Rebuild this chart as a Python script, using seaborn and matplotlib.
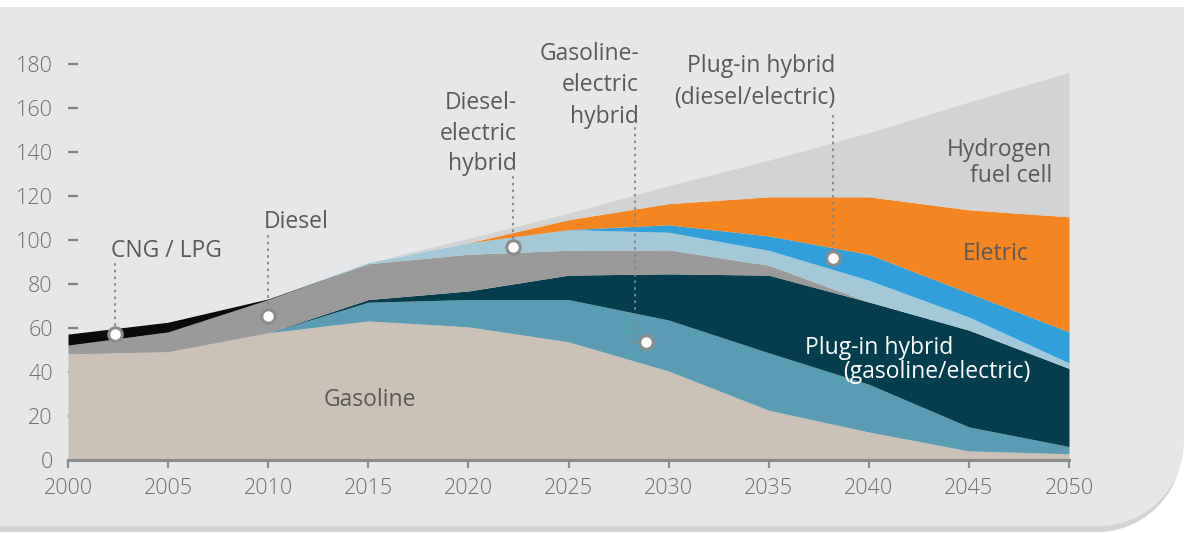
import numpy as np
import pandas as pd
import matplotlib
matplotlib.use("Agg")
import matplotlib.pyplot as plt
from matplotlib.path import Path
from matplotlib.patches import PathPatch
import seaborn as sns

# ---- data: vehicle stock by powertrain (stacked) ----
years = [2000, 2005, 2010, 2015, 2020, 2025, 2030, 2035, 2040, 2045, 2050]

gasoline        = [48.0, 49.0, 57.6, 63.0, 60.3, 53.5, 40.2, 22.4, 12.5, 3.9, 2.6]
gasoline_hybrid = [0.0, 0.0, 0.0, 8.5, 12.4, 19.2, 23.2, 26.1, 21.7, 10.9, 3.3]
plugin_gasoline = [0.0, 0.0, 0.0, 1.2, 3.9, 11.1, 21.0, 35.3, 37.4, 44.0, 35.5]
diesel          = [4.0, 9.0, 15.1, 16.3, 16.7, 11.3, 10.9, 4.5, 0.0, 0.0, 0.0]
cng_lpg         = [5.0, 4.4, 0.3, 0.0, 0.0, 0.0, 0.0, 0.0, 0.0, 0.0, 0.0]
diesel_hybrid   = [0.0, 0.0, 0.0, 0.5, 5.2, 9.4, 8.0, 6.8, 9.9, 6.0, 2.5]
plugin_diesel   = [0.0, 0.0, 0.0, 0.0, 0.0, 0.0, 3.4, 6.5, 11.8, 10.9, 14.1]
electric        = [0.0, 0.0, 0.0, 0.0, 0.0, 4.5, 9.6, 17.8, 26.1, 37.8, 52.3]
hydrogen        = [0.0, 0.0, 0.0, 0.0, 2.0, 3.0, 8.2, 16.6, 29.1, 49.0, 65.7]

series_names = ["Gasoline", "Gasoline-electric hybrid", "Plug-in hybrid (gasoline/electric)",
                "Diesel", "CNG / LPG", "Diesel-electric hybrid",
                "Plug-in hybrid (diesel/electric)", "Eletric", "Hydrogen fuel cell"]
series_colors = ["#CCC1B6", "#5A9CB4", "#033D4E", "#9A9A9A", "#0A0A0A",
                 "#A3C9D8", "#319FD9", "#F48520", "#D1D3D4"]

x_ticks = [2000, 2005, 2010, 2015, 2020, 2025, 2030, 2035, 2040, 2045, 2050]
y_ticks = [0, 20, 40, 60, 80, 100, 120, 140, 160, 180]

df = pd.DataFrame({"year": years, "Gasoline": gasoline,
                   "Gasoline-electric hybrid": gasoline_hybrid,
                   "Plug-in hybrid (gasoline/electric)": plugin_gasoline,
                   "Diesel": diesel, "CNG / LPG": cng_lpg,
                   "Diesel-electric hybrid": diesel_hybrid,
                   "Plug-in hybrid (diesel/electric)": plugin_diesel,
                   "Eletric": electric, "Hydrogen fuel cell": hydrogen})

# ---- style ----
sns.set_style("white")
plt.rcParams["font.family"] = ["Open Sans", "DejaVu Sans"]

TEXT = "#58595B"
TICK_TEXT = "#6D6E71"
AXIS = "#8A8B8D"
PANEL = "#E6E7E8"
SHADOW = "#D2D3D5"

W, H = 1184, 533
fig = plt.figure(figsize=(W / 100, H / 100), dpi=100)
fig.patch.set_facecolor("white")

# ---- background panel with rounded lower-right corner ----
bg = fig.add_axes([0, 0, 1, 1], zorder=0)
bg.set_xlim(0, W)
bg.set_ylim(H, 0)
bg.axis("off")


def panel_path(dx=0.0, dy=0.0, top=7.0, bottom=526.0, right=1184.0, r=85.0):
    theta = np.linspace(0, np.pi / 2, 40)
    arc_x = right - r + r * np.cos(theta)
    arc_y = bottom - r + r * np.sin(theta)
    verts = [(-20, top), (right, top)] + list(zip(arc_x, arc_y)) + [(-20, bottom), (-20, top)]
    verts = [(vx + dx, vy + dy) for vx, vy in verts]
    codes = [Path.MOVETO] + [Path.LINETO] * (len(verts) - 2) + [Path.CLOSEPOLY]
    return Path(verts, codes)


bg.add_patch(PathPatch(panel_path(dx=-2, dy=6), facecolor=SHADOW, edgecolor="none"))
bg.add_patch(PathPatch(panel_path(), facecolor=PANEL, edgecolor="none"))

# ---- main chart ----
ax = fig.add_axes([68 / W, (H - 459.5) / H, 1001 / W, (459.5 - 41.5) / H], zorder=1)
ax.set_facecolor("none")

ax.stackplot(df["year"], *[df[n] for n in series_names],
             colors=series_colors, linewidth=0, zorder=1)

# ---- callouts: leader lines and dots ----
leader_kw = dict(color="#86878A", lw=1.5, linestyle=(0, (0.4, 2.8)),
                 dash_capstyle="round", solid_capstyle="round", zorder=4)

leaders = [  # (x, y_top, y_bottom)
    (2002.36, 88.8, 58.5),
    (2010.0, 101.5, 66.6),
    (2022.21, 128.2, 98.1),
    (2028.32, 150.5, 53.0),
    (2038.22, 156.1, 93.0),
]
for lx, y0, y1 in leaders:
    ax.plot([lx, lx], [y0, y1], **leader_kw)

dots = pd.DataFrame({"x": [2002.36, 2010.0, 2022.21, 2028.87, 2038.22],
                     "y": [57.0, 65.1, 96.6, 53.3, 91.5]})
sns.scatterplot(data=dots, x="x", y="y", ax=ax, s=95, color="white",
                edgecolor="#8A8B8D", linewidth=2.2, zorder=5, legend=False)
ax.collections[-1].set_clip_on(False)

# ---- axes ----
ax.set_xlim(2000, 2050)
ax.set_ylim(0, 190)
ax.set_xlabel("")
ax.set_ylabel("")
ax.set_xticks(x_ticks)
ax.set_yticks(y_ticks)
ax.set_xticklabels([str(v) for v in x_ticks])
ax.set_yticklabels([str(v) for v in y_ticks])

sns.despine(ax=ax, left=True, top=True, right=True, bottom=False)
ax.spines["bottom"].set_color(AXIS)
ax.spines["bottom"].set_linewidth(2.2)
ax.spines["bottom"].set_zorder(3)

ax.tick_params(axis="x", which="major", bottom=True, top=False, direction="out",
               length=6, width=1.6, color=AXIS,
               labelsize=15.5, labelcolor=TICK_TEXT, pad=7)
ax.tick_params(axis="y", which="major", left=True, right=False, direction="in",
               length=7.5, width=1.6, color="#808183",
               labelsize=15.5, labelcolor=TICK_TEXT, pad=11)
for lab in ax.get_xticklabels() + ax.get_yticklabels():
    lab.set_fontweight("light")
ax.grid(False)

# ---- labels ----
lab_kw = dict(fontsize=16.5, color=TEXT, va="baseline", zorder=6, clip_on=False)
ax.text(2004.90, 91.9, "CNG / LPG", ha="center", **lab_kw)
ax.text(2011.39, 105.2, "Diesel", ha="center", **lab_kw)
for s, yb in zip(["Diesel-", "electric", "hybrid"], [159.3, 145.4, 131.4]):
    ax.text(2022.43, yb, s, ha="right", **lab_kw)
for s, yb in zip(["Gasoline-", "electric", "hybrid"], [181.6, 167.3, 152.9]):
    ax.text(2028.52, yb, s, ha="right", **lab_kw)
for s, yb in zip(["Plug-in hybrid", "(diesel/electric)"], [176.1, 161.6]):
    ax.text(2038.31, yb, s, ha="right", **lab_kw)
for s, yb in zip(["Hydrogen", "fuel cell"], [137.9, 126.0]):
    ax.text(2049.15, yb, s, ha="right", **lab_kw)
ax.text(2046.35, 90.6, "Eletric", ha="center", **lab_kw)
ax.text(2015.08, 24.1, "Gasoline", ha="center", **lab_kw)

white_kw = dict(lab_kw, color="white")
ax.text(2036.81, 48.0, "Plug-in hybrid", ha="left", **white_kw)
ax.text(2038.71, 37.2, "(gasoline/electric)", ha="left", **white_kw)

fig.savefig("out.png", dpi=100, facecolor=fig.get_facecolor())
